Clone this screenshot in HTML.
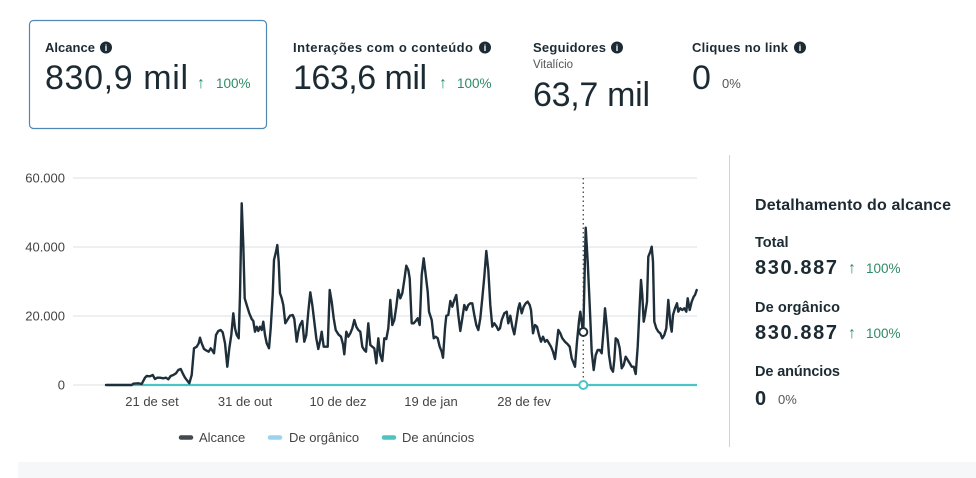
<!DOCTYPE html>
<html><head><meta charset="utf-8"><style>
html,body{margin:0;padding:0;background:#fff;}
svg{display:block;font-family:"Liberation Sans",Arial,sans-serif;}
</style></head><body>
<svg width="976" height="478" viewBox="0 0 976 478" xmlns="http://www.w3.org/2000/svg">
<rect x="0" y="0" width="976" height="478" fill="#fff"/>
<rect x="18" y="462" width="958" height="16" fill="#f6f7f8"/>

<!-- Card 1 -->
<rect x="29.5" y="20.5" width="237" height="108" rx="4" fill="#fff" stroke="#4f88b4" stroke-width="1.2"/>
<g fill="#1c2b33">
<text x="45" y="52" font-size="13" font-weight="bold" textLength="50">Alcance</text>
<circle cx="106" cy="47.5" r="6"/>
<text x="45" y="89" font-size="34" textLength="143">830,9 mil</text>

<text x="293" y="52" font-size="13" font-weight="bold" textLength="180">Interações com o conteúdo</text>
<circle cx="485" cy="47.5" r="6"/>
<text x="293" y="89" font-size="34" textLength="134">163,6 mil</text>

<text x="533" y="52" font-size="13" font-weight="bold" textLength="73">Seguidores</text>
<circle cx="617" cy="47.5" r="6"/>
<text x="533" y="106" font-size="34" textLength="117">63,7 mil</text>

<text x="692" y="52" font-size="13" font-weight="bold" textLength="96">Cliques no link</text>
<circle cx="800" cy="47.5" r="6"/>
<text x="692" y="89" font-size="34">0</text>
</g>
<g fill="#fff" font-size="9" font-weight="bold" text-anchor="middle">
<text x="106" y="51">i</text>
<text x="485" y="51">i</text>
<text x="617" y="51">i</text>
<text x="800" y="51">i</text>
</g>
<text x="533" y="68" font-size="11.5" fill="#555">Vitalício</text>
<g fill="#2e8b66">
<text x="197" y="88" font-size="16">↑</text>
<text x="216" y="88" font-size="13.5">100%</text>
<text x="439" y="88" font-size="16">↑</text>
<text x="457" y="88" font-size="13.5">100%</text>
</g>
<text x="722" y="88" font-size="13" fill="#555">0%</text>

<!-- Grid -->
<g stroke="#dcdfe2" stroke-width="1">
<line x1="73" y1="178" x2="697" y2="178"/>
<line x1="73" y1="247" x2="697" y2="247"/>
<line x1="73" y1="316" x2="697" y2="316"/>
<line x1="73" y1="385" x2="697" y2="385"/>
</g>
<g font-size="13" fill="#444" text-anchor="end">
<text x="65" y="182.5">60.000</text>
<text x="65" y="251.5">40.000</text>
<text x="65" y="320.5">20.000</text>
<text x="65" y="389.5">0</text>
</g>
<g font-size="13" fill="#444" text-anchor="middle">
<text x="152" y="406">21 de set</text>
<text x="245" y="406">31 de out</text>
<text x="338" y="406">10 de dez</text>
<text x="431" y="406">19 de jan</text>
<text x="524" y="406">28 de fev</text>
</g>

<!-- dotted hover line -->
<line x1="583.3" y1="178" x2="583.3" y2="385" stroke="#555" stroke-width="1.4" stroke-dasharray="1.5,3"/>

<!-- teal series -->
<line x1="107" y1="385" x2="697" y2="385" stroke="#4cc4c6" stroke-width="2.2"/>

<!-- main series -->
<polyline fill="none" stroke="#1f2f3a" stroke-width="2.4" stroke-linejoin="round" stroke-linecap="round" points="106,385 131.7,385 133.3,383.7 138.3,383.3 141.7,384 145,377.7 146.7,376 150,376.3 152.7,375 155,379 157.3,377.7 160,377.7 163.3,378.3 166,377.7 168.3,379.3 170.7,376 173.3,375 176,373.3 178.3,370 180.7,369 182.7,373.3 185,377.7 187.3,380.7 189.3,383.3 191.7,375 194,348.3 196.7,346.7 198.7,343.3 200,337.7 201.7,343.3 204,349 206.7,350.7 208.7,351.7 210.7,348.3 212,350 214,353.3 216,335 218.3,331 220.7,330 222.7,332.3 225,343.3 227.3,366.7 229.3,348.3 231.3,335 233.3,313.3 235,328.3 236.7,335 238.7,338.3 240,295 241.7,203.3 243.3,245 244.7,298.3 246.7,305 249.3,313.3 251.7,319 253.3,321 255,331.7 256.7,326.7 258.3,331 260,326.7 261.7,330 263.3,321.7 265,335 266.7,343.3 269,348.3 270.7,328.3 272.7,295 274,260 276,251.7 277.3,245 278.7,261.7 280,293.3 281.7,298.3 283.3,305 285.3,323.3 287.3,320 290,315.7 292.7,315 294.3,319 296.7,341.7 298.3,331.7 300,325 302.3,321 304.3,341.7 306.3,335 308.3,311.7 310.3,292.3 312.3,305 314.3,321.7 316.3,338.3 318.3,349 320.3,340 321.7,331.7 323.7,346.7 325.7,346.7 327.7,346.7 329.7,290 331.7,301.7 333.7,318.3 335.7,330 338.3,334.3 341,336.7 343,344.3 344.3,354.3 346.3,331.7 348.3,336.7 350.3,333.3 352.3,328.3 354.3,320 356.3,326.7 358.3,330 360.3,331.7 362.3,346.7 364.3,350 366,351.7 368.3,323.3 370.3,345 372.3,346.7 374.3,348.3 376.3,363.3 378.3,338.3 380.3,355 382.3,361 384.3,338.3 386.3,339 388.3,328.3 390.3,300 392.3,325 394.3,320 396.3,306.7 398.3,290 400.3,298.3 402.3,293.3 404.3,280 406.3,265.7 408.3,270 409.7,278.3 411.7,323.3 413.7,323.3 415.7,321 417.7,318.3 419.7,325 421.7,275 423.7,258.3 425.7,275 427.7,291.7 429,311.7 431.7,320 433.7,338.3 435.7,336.7 437.7,338.3 439.7,346.7 441.7,351.7 443,357.7 445,328.3 446.3,315.7 448.3,315 450.3,301 452.3,306.7 454.3,300 456.3,295 458.3,315 460.3,331 462.3,318.3 464.3,305 466.3,310 468.3,305 470.3,303.3 472.3,303.3 474.3,315 476.3,325 478.3,330 480.3,318.3 482.3,298.3 484.3,276.7 486.3,251 488.3,270 490.3,305 492.3,326.7 494.3,323.3 496.7,326.7 498.3,330 500,328.3 501.7,320 504.3,313.3 506.7,311.7 508.3,323.3 510.3,315.7 512.3,326.7 514.3,334.3 516.3,321.7 518.3,308.3 519.7,303.3 521.7,313.3 523.7,306.7 525.7,303.3 527.7,301.7 529.7,305 531,310 533,333.3 535,325 537,326.7 539,335 541,341.7 543,336.7 545,341.7 547,340 549,343.3 551,346.7 553,351.7 555,359 557,341.7 558.3,330 560.3,333.3 562.3,338.3 565,341.7 567.7,344.3 569.7,346.7 571.7,358.3 573.7,363.3 575,366.7 577,341.7 579,321 580.3,311.7 582.3,326.7 583.3,331.7 585.7,227.7 587.7,261.7 589.7,305 591.7,351.7 593.7,370 595.7,355 597.7,350 599.7,350 601.7,353.3 603.7,328.3 605,308.3 607,328.3 609,355 611,368.3 613,371.7 614.3,360 615.7,338.3 617.7,340 619.7,348.3 621.7,368.3 623.7,365 625.7,356.7 627.7,360 629.7,363.3 631.7,366.7 633.7,366.7 635.7,374 637.7,346.7 639.7,305 641,280 642.3,295 643.7,321.7 645,315 647,301.7 648.3,256.7 650.3,251.7 651.7,246.7 653,261.7 654.3,321.7 656.3,328.3 658.3,331.7 660.3,333.3 662.3,338.3 664.3,335 666.3,328.3 668.3,300 670.3,323.3 671.7,331.7 673,315 675,308.3 677,303.3 678.3,311.7 680.3,308.3 682.3,310 684.3,308.3 686.3,311.7 687.7,298.3 689.7,310 691.7,301.7 693.7,296.7 695,295 696.7,290"/>

<!-- markers -->
<circle cx="583.3" cy="332" r="4" fill="#fff" stroke="#1f2f3a" stroke-width="2"/>
<circle cx="583.3" cy="385" r="4" fill="#fff" stroke="#4cc4c6" stroke-width="2"/>

<!-- legend -->
<g stroke-width="4.5" stroke-linecap="round">
<line x1="181" y1="437.5" x2="191" y2="437.5" stroke="#444950"/>
<line x1="270" y1="437.5" x2="280" y2="437.5" stroke="#9bd3ee"/>
<line x1="384" y1="437.5" x2="394" y2="437.5" stroke="#4fc3bf"/>
</g>
<g font-size="13" fill="#444">
<text x="199" y="442">Alcance</text>
<text x="289" y="442">De orgânico</text>
<text x="402" y="442">De anúncios</text>
</g>

<!-- divider -->
<line x1="729.5" y1="155" x2="729.5" y2="447" stroke="#d0d3d6" stroke-width="1"/>

<!-- right panel -->
<g fill="#1c2b33" font-weight="bold">
<text x="755" y="210" font-size="16" textLength="196">Detalhamento do alcance</text>
<text x="755" y="247" font-size="14.5">Total</text>
<text x="755" y="274" font-size="20" textLength="82">830.887</text>
<text x="755" y="312" font-size="14.5" textLength="85">De orgânico</text>
<text x="755" y="339" font-size="20" textLength="82">830.887</text>
<text x="755" y="376" font-size="14.5" textLength="85">De anúncios</text>
<text x="755" y="405" font-size="20">0</text>
</g>
<g fill="#2e8b66">
<text x="848" y="273" font-size="16">↑</text>
<text x="866" y="273" font-size="13.5">100%</text>
<text x="848" y="338" font-size="16">↑</text>
<text x="866" y="338" font-size="13.5">100%</text>
</g>
<text x="778" y="404" font-size="13" fill="#555">0%</text>
</svg>
</body></html>
